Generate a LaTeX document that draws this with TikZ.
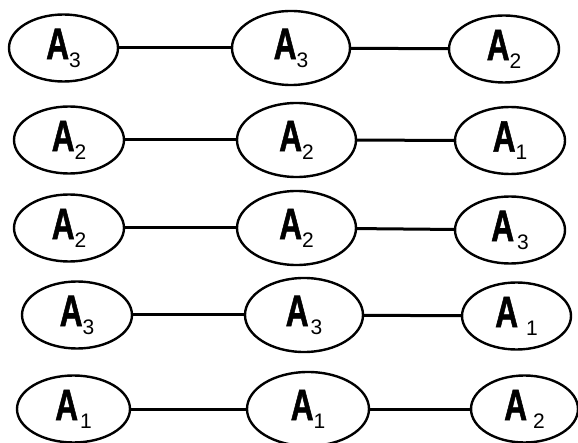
\documentclass[tikz,border=0pt]{standalone}
\usepackage{fontspec}
\setmainfont{Liberation Sans}
\newfontfamily\afont[BoldFeatures={FakeBold=1.5}]{Liberation Sans}
\usetikzlibrary{shapes.geometric}
\newcommand{\albl}[2][0pt]{\scalebox{0.72}[1]{\afont\fontsize{44}{44}\selectfont\bfseries A}\hspace{#1}\raisebox{-8pt}{\fontsize{21}{21}\selectfont #2}}
\tikzset{
  oval/.style={draw=black, line width=2.4pt, ellipse, inner sep=0pt, minimum width=110pt, minimum height=67pt},
  midoval/.style={oval, minimum width=119pt, minimum height=74pt},
  link/.style={draw=black, line width=3pt}
}
\begin{document}
\begin{tikzpicture}[x=1pt,y=-1pt]
\useasboundingbox (0,0) rectangle (578,443);
% row 1
\node[oval, minimum width=109pt] (a1) at (63.5,48) {\albl{3}};
\node[midoval, minimum width=118pt] (b1) at (291,48) {\albl{3}};
\node[oval] (c1) at (504,49) {\albl{2}};
% row 2
\node[oval] (a2) at (69,140) {\albl{2}};
\node[midoval] (b2) at (296.5,140) {\albl{2}};
\node[oval] (c2) at (510,140.5) {\albl{1}};
% row 3
\node[oval] (a3) at (69,228) {\albl{2}};
\node[midoval] (b3) at (296.5,228) {\albl{2}};
\node[oval] (c3) at (510,230) {\albl[3pt]{3}};
% row 4
\node[oval] (a4) at (77,315) {\albl{3}};
\node[midoval, minimum width=118pt] (b4) at (304,315) {\albl[2pt]{3}};
\node[oval, minimum width=109pt] (c4) at (516.5,316) {\albl[8pt]{1}};
% row 5
\node[oval, minimum width=113pt] (a5) at (73.5,409) {\albl[2pt]{1}};
\node[midoval, minimum width=122pt] (b5) at (308,409) {\albl{1}};
\node[oval, minimum width=107pt] (c5) at (524.5,409) {\albl[6pt]{2}};
% connectors
\foreach \r in {1,...,5}{
  \path[link] (a\r) -- (b\r);
  \path[link] (b\r) -- (c\r);
}
\end{tikzpicture}
\end{document}
